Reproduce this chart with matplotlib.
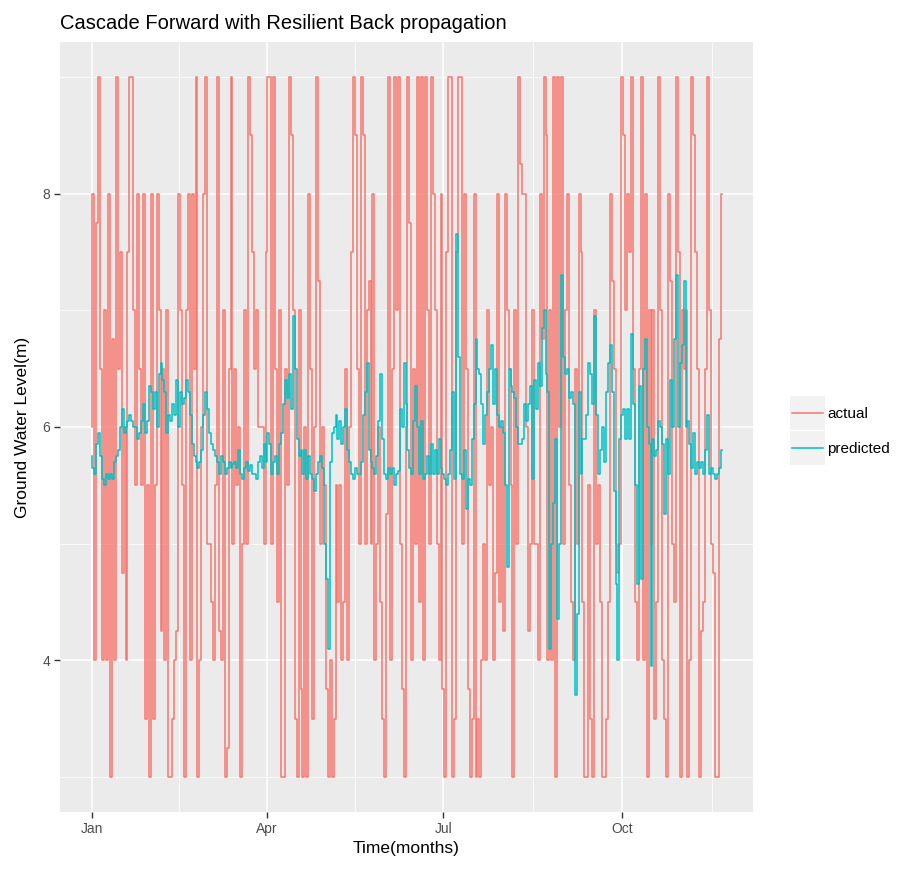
import numpy as np
import pandas as pd
import matplotlib
matplotlib.use("Agg")
import matplotlib.pyplot as plt
import matplotlib.dates as mdates
from matplotlib.lines import Line2D
from matplotlib.patches import Rectangle
from matplotlib.legend_handler import HandlerLine2D

plt.rcParams['font.family'] = ['Liberation Sans', 'DejaVu Sans']

# daily observations starting 1 January
start_date = "2015-01-01"

actual = [
    6.0, 8.0, 4.0, 7.75, 9.0, 6.5, 4.0, 7.0, 4.0, 8.0,
    3.0, 6.75, 4.0, 9.0, 6.5, 7.5, 4.75, 6.0, 4.0, 7.5,
    9.0, 9.0, 7.0, 5.5, 8.0, 6.5, 5.5, 8.0, 3.5, 5.5,
    3.0, 8.0, 3.5, 5.5, 8.0, 7.0, 4.25, 6.5, 4.0, 7.0,
    3.0, 3.0, 3.5, 4.0, 4.25, 8.0, 7.0, 5.5, 3.0, 7.0,
    8.0, 4.0, 8.0, 6.5, 9.0, 3.0, 4.0, 6.0, 8.0, 9.0,
    5.0, 5.0, 4.5, 4.0, 5.5, 9.0, 4.25, 4.0, 7.0, 3.0,
    3.25, 6.5, 9.0, 5.0, 6.5, 5.5, 6.0, 3.0, 5.0, 7.0,
    5.0, 9.0, 8.5, 7.5, 6.5, 7.0, 6.0, 6.0, 6.0, 5.0,
    7.5, 9.0, 9.0, 5.0, 9.0, 6.5, 4.5, 7.0, 3.0, 3.0,
    6.5, 5.5, 9.0, 8.5, 7.0, 3.5, 3.0, 7.0, 3.75, 3.0,
    6.0, 3.0, 8.0, 6.5, 3.5, 6.0, 9.0, 7.25, 5.0, 6.0,
    5.5, 3.75, 3.0, 4.0, 3.0, 3.5, 5.5, 4.5, 5.5, 4.0,
    4.5, 6.5, 4.0, 6.0, 7.5, 9.0, 8.5, 6.5, 5.0, 9.0,
    8.5, 5.0, 7.0, 7.25, 5.0, 8.0, 4.0, 5.0, 6.0, 4.5,
    3.5, 3.0, 5.25, 9.0, 4.0, 6.5, 9.0, 7.0, 9.0, 5.0,
    3.75, 3.0, 6.0, 9.0, 7.75, 4.0, 6.5, 5.0, 9.0, 4.5,
    9.0, 4.0, 9.0, 7.0, 5.0, 9.0, 8.0, 7.0, 5.0, 4.0,
    8.0, 3.75, 3.0, 7.5, 9.0, 9.0, 3.0, 3.5, 7.5, 9.0,
    9.0, 5.0, 8.0, 6.5, 3.75, 3.0, 3.5, 8.0, 3.0, 3.5,
    3.0, 4.0, 5.0, 4.0, 7.0, 5.5, 6.0, 4.0, 4.75, 8.0,
    4.5, 6.0, 4.25, 8.0, 7.0, 6.5, 5.5, 3.0, 7.0, 5.0,
    9.0, 8.25, 8.0, 8.0, 6.0, 4.25, 5.0, 7.0, 5.0, 5.0,
    4.0, 8.0, 6.75, 9.0, 8.5, 4.0, 7.0, 4.0, 9.0, 3.0,
    9.0, 6.0, 9.0, 5.0, 7.0, 8.0, 5.5, 4.5, 4.0, 6.5,
    5.0, 8.0, 7.5, 4.5, 3.0, 3.0, 5.5, 3.5, 3.0, 7.0,
    5.0, 5.5, 4.5, 3.0, 3.0, 3.5, 4.5, 8.0, 7.25, 6.5,
    5.0, 4.75, 5.0, 9.0, 8.5, 7.0, 8.0, 7.5, 9.0, 6.5,
    4.5, 4.0, 6.5, 9.0, 4.0, 8.0, 3.0, 7.0, 5.0, 7.0,
    3.5, 4.5, 9.0, 7.0, 4.0, 3.5, 3.0, 8.0, 7.25, 5.0,
    4.5, 9.0, 7.5, 3.0, 7.0, 6.5, 7.0, 3.0, 4.0, 9.0,
    8.5, 7.5, 6.5, 3.0, 4.25, 4.5, 6.5, 9.0, 7.0, 5.0,
    4.75, 3.0, 3.0, 6.75, 8.0,
]

predicted = [
    5.75, 5.65, 5.6, 5.85, 5.95, 5.75, 5.55, 5.5, 5.6, 5.55,
    5.6, 5.55, 5.7, 5.75, 5.8, 6.0, 6.15, 5.95, 6.0, 6.05,
    6.1, 6.05, 6.0, 6.0, 5.9, 5.95, 6.05, 6.2, 5.95, 6.05,
    6.35, 6.3, 6.15, 6.3, 6.0, 6.45, 6.55, 6.4, 6.3, 5.95,
    6.1, 6.05, 6.2, 6.1, 6.4, 6.0, 6.3, 6.2, 6.25, 6.4,
    6.3, 6.1, 5.85, 5.75, 5.7, 5.65, 5.7, 5.8, 6.1, 6.3,
    6.15, 5.95, 5.85, 5.8, 5.75, 5.7, 5.6, 5.75, 5.7, 5.6,
    5.65, 5.7, 5.65, 5.68, 5.7, 5.65, 5.8, 5.6, 5.55, 5.65,
    5.7, 5.62, 5.67, 5.6, 5.6, 5.55, 5.7, 5.75, 5.65, 5.85,
    5.7, 5.95, 5.85, 5.6, 5.7, 5.75, 5.6, 5.85, 5.95, 6.2,
    6.4, 6.25, 6.45, 6.15, 6.95, 6.5, 5.9, 5.75, 5.8, 5.6,
    5.8, 5.55, 5.75, 5.6, 5.55, 5.45, 5.6, 5.7, 5.75, 5.65,
    5.0, 4.7, 4.1, 5.7, 5.95, 6.0, 6.1, 5.9, 6.05, 5.85,
    6.0, 6.15, 5.8, 5.7, 5.6, 5.55, 5.65, 5.6, 5.6, 5.7,
    6.1, 6.3, 6.55, 5.8, 5.7, 5.65, 5.6, 5.75, 6.05, 6.45,
    5.9, 5.6, 5.55, 5.65, 5.6, 5.65, 5.5, 5.6, 5.62, 6.15,
    6.0, 6.55, 6.2, 5.8, 5.65, 5.6, 6.05, 6.35, 6.0, 5.6,
    6.05, 5.55, 5.6, 5.75, 5.6, 5.85, 5.6, 5.8, 5.6, 5.9,
    5.65, 5.6, 5.55, 5.5, 5.6, 5.8, 6.3, 5.55, 7.65, 6.6,
    5.6, 5.55, 5.8, 5.3, 5.55, 5.5, 5.9, 6.2, 6.75, 6.5,
    6.45, 6.2, 5.85, 6.1, 6.3, 6.5, 6.7, 6.2, 6.5, 6.1,
    6.0, 6.05, 5.95, 5.5, 4.8, 6.5, 6.35, 6.3, 6.25, 6.0,
    5.85, 5.85, 5.9, 6.2, 6.05, 6.2, 6.35, 5.55, 6.4, 6.15,
    6.55, 6.35, 6.85, 7.0, 6.45, 6.3, 4.1, 5.0, 5.35, 5.9,
    4.35, 5.0, 7.3, 6.6, 6.45, 6.5, 6.25, 6.3, 6.2, 3.7,
    4.4, 6.3, 5.6, 5.9, 5.9, 6.1, 6.55, 6.45, 6.2, 6.95,
    6.1, 5.6, 5.8, 6.0, 5.7, 6.3, 6.55, 6.7, 6.3, 5.45,
    4.65, 4.0, 5.9, 6.1, 6.15, 5.9, 6.15, 5.9, 6.8, 6.2,
    5.5, 4.65, 6.35, 4.7, 6.5, 6.75, 6.0, 5.85, 3.95, 5.9,
    5.75, 5.8, 6.05, 6.0, 5.85, 5.25, 5.9, 5.6, 6.4, 6.0,
    6.75, 7.3, 6.0, 6.55, 6.7, 7.25, 6.0, 6.05, 5.85, 5.65,
    5.95, 5.6, 5.7, 5.65, 5.7, 5.6, 5.8, 6.1, 5.6, 5.65,
    5.6, 5.55, 5.6, 5.65, 5.8,
]

series_names = ["actual", "predicted"]
series_colors = ["#F8766D", "#00BFC4"]
month_ticks = ["2015-01-01", "2015-04-01", "2015-07-01", "2015-10-01"]
month_labels = ["Jan", "Apr", "Jul", "Oct"]
y_major = [4, 6, 8]
y_minor = [3, 5, 7, 9]

dates = pd.date_range(start_date, periods=len(actual), freq="D")


class KeyHandler(HandlerLine2D):
    """Legend key: light grey square with a horizontal line across it."""

    def create_artists(self, legend, orig_handle, xdescent, ydescent,
                       width, height, fontsize, trans):
        bg = Rectangle((-xdescent, -ydescent), width, height,
                       facecolor="#F2F2F2", edgecolor="none", transform=trans)
        yc = height / 2 - ydescent
        pad = width * 0.06
        line = Line2D([-xdescent + pad, -xdescent + width - pad], [yc, yc],
                      color=orig_handle.get_color(), lw=orig_handle.get_linewidth(),
                      transform=trans)
        return [bg, line]


fig = plt.figure(figsize=(9.08, 8.73), dpi=100)
ax = fig.add_axes([0.0661, 0.0699, 0.7632, 0.8820])
ax.set_facecolor("#EBEBEB")
for s in ax.spines.values():
    s.set_visible(False)

ax.plot(dates, actual, color=series_colors[0], lw=1.1, drawstyle="steps-mid", zorder=3)
ax.plot(dates, predicted, color=series_colors[1], lw=1.1, drawstyle="steps-mid", zorder=4)

# ggplot-like 5% expansion of the data range
x0, x1 = mdates.date2num(dates[0]), mdates.date2num(dates[-1])
xpad = 0.05 * (x1 - x0)
ax.set_xlim(x0 - xpad, x1 + xpad)
vals = np.concatenate([actual, predicted])
ypad = 0.05 * (vals.max() - vals.min())
ax.set_ylim(vals.min() - ypad, vals.max() + ypad)

major_x = mdates.date2num(pd.to_datetime(month_ticks))
minor_x = list((major_x[:-1] + major_x[1:]) / 2) + [major_x[-1] + (major_x[-1] - major_x[-2]) / 2]
ax.set_xticks(major_x)
ax.set_xticklabels(month_labels)
ax.set_xticks(minor_x, minor=True)
ax.set_yticks(y_major)
ax.set_yticks(y_minor, minor=True)

ax.grid(which="major", color="white", lw=1.1, zorder=1)
ax.grid(which="minor", color="white", lw=0.55, zorder=1)
ax.set_axisbelow(True)
ax.tick_params(which="major", direction="out", length=4, width=1.0,
               color="#333333", labelcolor="#4D4D4D", labelsize=10, pad=3)
ax.tick_params(which="minor", length=0)

ax.set_xlabel("Time(months)", fontsize=12.5, color="black", labelpad=4)
ax.set_ylabel("Ground Water Level(m)", fontsize=12.5, color="black", labelpad=9)
ax.set_title("Cascade Forward with Resilient Back propagation", loc="left",
             fontsize=14.5, color="black", pad=9)

handles = [Line2D([], [], color=c, lw=1.1) for c in series_colors]
fig.legend(handles, series_names, loc="center left", bbox_to_anchor=(0.870, 0.5065),
           frameon=False, fontsize=11, handlelength=2.3, handleheight=3.05,
           handletextpad=0.15, labelspacing=0.08, borderpad=0, borderaxespad=0,
           handler_map={Line2D: KeyHandler()})

fig.savefig("out.png", dpi=100)
